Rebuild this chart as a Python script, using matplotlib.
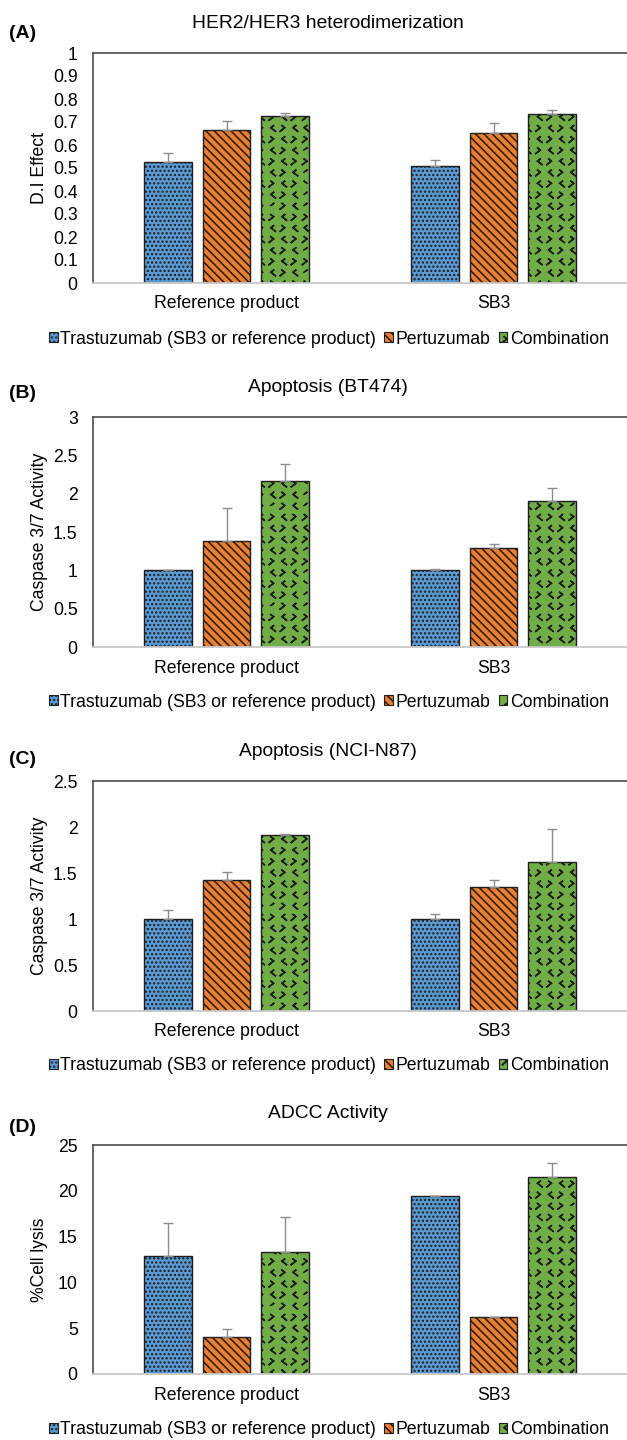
import numpy as np
import matplotlib
matplotlib.use('Agg')
import matplotlib.pyplot as plt
import matplotlib.hatch as mhatch
from matplotlib.path import Path
from matplotlib.patches import Patch
from matplotlib.ticker import FuncFormatter, MultipleLocator

# ---------------- data ----------------
categories = ["Reference product", "SB3"]
series_names = ["Trastuzumab (SB3 or reference product)", "Pertuzumab", "Combination"]

# (A) HER2/HER3 heterodimerization
a_trastuzumab = [0.525, 0.510]
a_pertuzumab = [0.664, 0.654]
a_combination = [0.726, 0.733]
a_trastuzumab_err = [0.040, 0.026]
a_pertuzumab_err = [0.041, 0.042]
a_combination_err = [0.014, 0.020]

# (B) Apoptosis (BT474)
b_trastuzumab = [1.00, 1.00]
b_pertuzumab = [1.383, 1.291]
b_combination = [2.165, 1.900]
b_trastuzumab_err = [0.010, 0.020]
b_pertuzumab_err = [0.430, 0.057]
b_combination_err = [0.222, 0.174]

# (C) Apoptosis (NCI-N87)
c_trastuzumab = [1.00, 1.00]
c_pertuzumab = [1.420, 1.351]
c_combination = [1.917, 1.620]
c_trastuzumab_err = [0.094, 0.050]
c_pertuzumab_err = [0.094, 0.077]
c_combination_err = [0.011, 0.355]

# (D) ADCC Activity
d_trastuzumab = [12.83, 19.40]
d_pertuzumab = [4.07, 6.18]
d_combination = [13.34, 21.47]
d_trastuzumab_err = [3.63, 0.05]
d_pertuzumab_err = [0.87, 0.05]
d_combination_err = [3.77, 1.60]

panel_letters = ["(A)", "(B)", "(C)", "(D)"]
panel_titles = ["HER2/HER3 heterodimerization", "Apoptosis (BT474)",
                "Apoptosis (NCI-N87)", "ADCC Activity"]
panel_ylabels = ["D.I Effect", "Caspase 3/7 Activity", "Caspase 3/7 Activity", "%Cell lysis"]
panel_ymax = [1.0, 3.0, 2.5, 25]
panel_ystep = [0.1, 0.5, 0.5, 5]

# ---------------- custom chevron hatch ("*" -> alternating < > marks) ----------------
class Chevrons(mhatch.HatchPatternBase):
    def __init__(self, hatch, density):
        self.n = int(hatch.count('*') * 4.5)
        self.num_vertices = self.n * self.n * 5 if self.n else 0

    def set_vertices_and_codes(self, vertices, codes):
        n = self.n
        step = 1.0 / n
        w = 0.24 * step
        h = 0.38 * step
        vs, cs = [], []
        for r in range(n):
            for c in range(n):
                cx = (c + 0.5) * step
                cy = (r + 0.5) * step
                d = 1 if (r + c) % 2 == 0 else -1
                a = [cx + d * w / 2, cy + h / 2]
                b = [cx - d * w / 2, cy]
                e = [cx + d * w / 2, cy - h / 2]
                vs += [a, b, e, b, a]
                cs += [Path.MOVETO, Path.LINETO, Path.LINETO, Path.LINETO, Path.LINETO]
        vertices[:] = np.array(vs)
        codes[:] = np.array(cs, dtype=Path.code_type)

mhatch._hatch_types = [h for h in mhatch._hatch_types if h is not mhatch.Stars] + [Chevrons]

# ---------------- style ----------------
plt.rcParams['font.family'] = ['Liberation Sans', 'DejaVu Sans']
plt.rcParams['hatch.linewidth'] = 1.1

W, H = 627, 1440
fig = plt.figure(figsize=(W / 100, H / 100), dpi=100)

colors = ["#5B9BD5", "#ED7D31", "#70AD47"]
hatches = ["....", "\\\\\\\\", "**"]
edgec = "#1e1e1e"

panels = [
    ([a_trastuzumab, a_pertuzumab, a_combination], [a_trastuzumab_err, a_pertuzumab_err, a_combination_err]),
    ([b_trastuzumab, b_pertuzumab, b_combination], [b_trastuzumab_err, b_pertuzumab_err, b_combination_err]),
    ([c_trastuzumab, c_pertuzumab, c_combination], [c_trastuzumab_err, c_pertuzumab_err, c_combination_err]),
    ([d_trastuzumab, d_pertuzumab, d_combination], [d_trastuzumab_err, d_pertuzumab_err, d_combination_err]),
]

# layout in pixels
ax_left, ax_right = 93, 627
ax_tops = [53, 417, 781, 1145]
ax_bottoms = [283, 647, 1011, 1374]
title_y = [23, 387, 751, 1113]
letter_y = [34, 393, 760, 1127]
legend_y = [339, 702, 1066, 1430]
center_x = 328

def fx(px):
    return px / W

def fy(py):
    return 1 - py / H

fmt = FuncFormatter(lambda v, p: f"{v:g}")
offsets = [-0.22, 0.0, 0.22]
bar_w = 0.179
x = np.arange(len(categories))

for i, (vals, errs) in enumerate(panels):
    ax = fig.add_axes([fx(ax_left), fy(ax_bottoms[i]), (ax_right - ax_left) / W,
                       (ax_bottoms[i] - ax_tops[i]) / H])
    for k in range(3):
        ax.bar(x + offsets[k], vals[k], width=bar_w, color=colors[k], edgecolor=edgec,
               linewidth=1.0, hatch=hatches[k], zorder=2)
        ax.errorbar(x + offsets[k], vals[k], yerr=[np.zeros(len(errs[k])), errs[k]],
                    fmt='none', ecolor='#8c8c8c', elinewidth=1.0, capsize=3.5,
                    capthick=1.0, zorder=3)
    ax.set_xlim(-0.5, 1.5)
    ax.set_ylim(0, panel_ymax[i])
    ax.yaxis.set_major_locator(MultipleLocator(panel_ystep[i]))
    ax.yaxis.set_major_formatter(fmt)
    ax.set_xticks(x)
    ax.set_xticklabels(categories)
    ax.tick_params(axis='both', length=0, labelsize=12.7, colors='#000000')
    ax.tick_params(axis='y', pad=11)
    ax.tick_params(axis='x', pad=9)
    for s in ['left', 'top']:
        ax.spines[s].set_color('#4d4d4d')
        ax.spines[s].set_linewidth(1.2)
    ax.spines['right'].set_visible(False)
    ax.spines['bottom'].set_color('#c8c8c8')
    ax.spines['bottom'].set_linewidth(1.3)
    ax.set_ylabel(panel_ylabels[i], fontsize=12.7)
    ax.yaxis.set_label_coords((48 - ax_left) / (ax_right - ax_left), 0.5)

    fig.text(fx(center_x), fy(title_y[i]), panel_titles[i], ha='center', va='center',
             fontsize=13.9)
    fig.text(fx(9), fy(letter_y[i]), panel_letters[i], ha='left', va='center',
             fontsize=14, fontweight='bold')

    handles = [Patch(facecolor=colors[k], edgecolor=edgec, hatch=hatches[k], linewidth=0.8)
               for k in range(3)]
    fig.legend(handles, series_names, loc='center', ncol=3,
               bbox_to_anchor=(fx(center_x + 1), fy(legend_y[i])), frameon=False,
               fontsize=12.7, handlelength=0.5, handleheight=0.5, handletextpad=0.15,
               columnspacing=0.45, borderpad=0, borderaxespad=0)

fig.savefig('out.png', dpi=100)
